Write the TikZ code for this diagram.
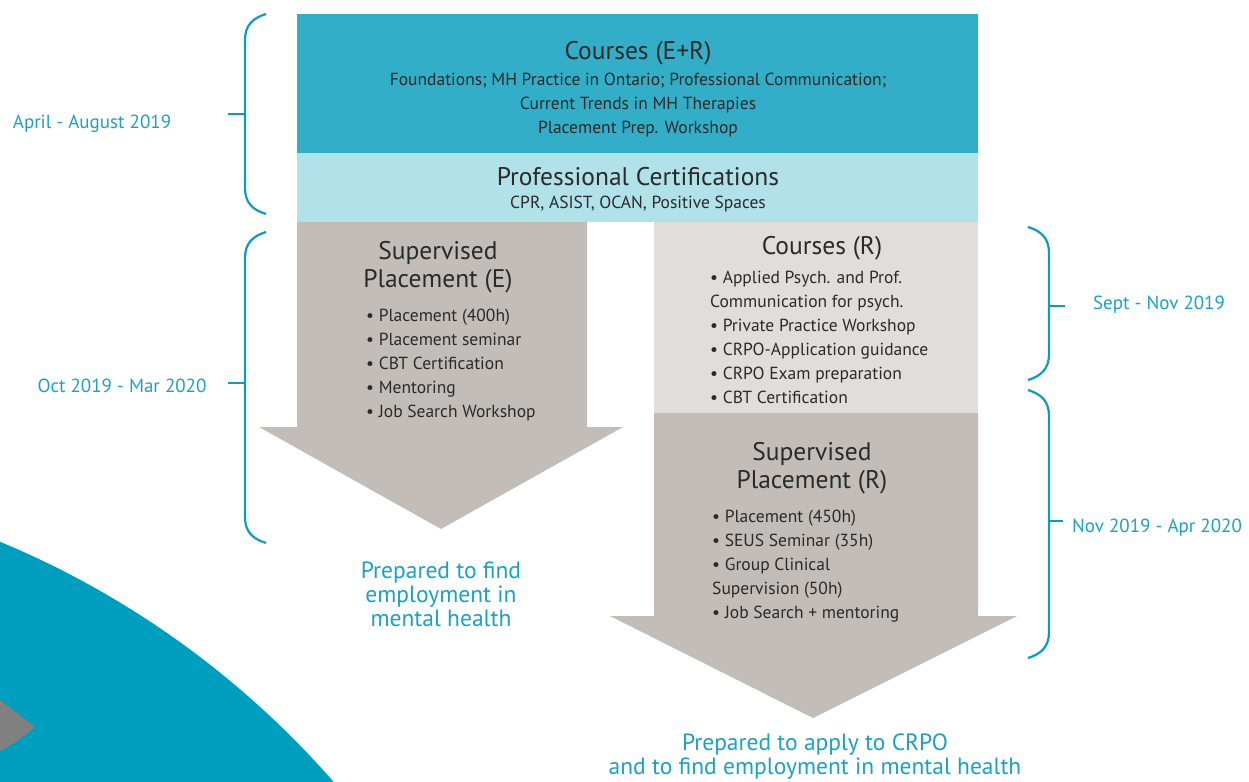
\documentclass[tikz,border=0pt]{standalone}
\usepackage{fontspec}
\setmainfont{PT Sans}
\usepackage{xcolor}
\usepackage{tikz}

\definecolor{tealtop}{HTML}{33AEC8}
\definecolor{birumuda}{HTML}{B1E1E9}
\definecolor{abu}{HTML}{C2BDB9}
\definecolor{abumuda}{HTML}{E0DEDC}
\definecolor{biru}{HTML}{1BA1C1}
\definecolor{garis}{HTML}{0E9CBE}
\definecolor{bulat}{HTML}{009EBE}
\definecolor{segitiga}{HTML}{808080}
\definecolor{teks}{HTML}{2A2A2A}

\begin{document}
\begin{tikzpicture}[x=1pt,y=-1pt,
	judul/.style={text=teks,font=\fontsize{25.5}{28}\selectfont,align=center,inner sep=0pt,yshift=-3pt},
	isi/.style={text=teks,font=\fontsize{17.5}{24}\selectfont,align=center,inner sep=0pt,yshift=-3pt},
	daftar/.style={isi,align=left,anchor=west},
	waktu/.style={text=biru,font=\fontsize{19}{22}\selectfont,inner sep=0pt,yshift=-3pt},
	hasil/.style={text=biru,font=\fontsize{23.5}{24}\selectfont,align=center,inner sep=0pt,yshift=-2pt},
	kurung/.style={draw=garis,line width=2.2pt}]
	% batas gambar
	\clip (0,0) rectangle (1249,781);

	% latar: lingkaran besar dan segitiga abu
	\fill [bulat] (-346,1375) circle (902pt);
	\fill [segitiga] (0,700) -- (35,727) .. controls (22,738) and (12,745) .. (0,751) -- cycle;

	% kotak dan panah
	\fill [tealtop] (297,14) rectangle (978,153);      % kursus E+R
	\fill [birumuda] (297,153) rectangle (978,222);    % sertifikasi
	\fill [abu] (297,222) -- (587,222) -- (587,427) -- (623,427) -- (441,529)
		-- (259,427) -- (297,427) -- cycle;              % panah kiri
	\fill [abumuda] (654,222) rectangle (978,413);     % kursus R
	\fill [abu] (654,413) -- (978,413) -- (978,616) -- (1017,616) -- (813,718)
		-- (610,616) -- (654,616) -- cycle;              % panah kanan

	% definisi untuk node
	\node (kursus) [judul] at (638,50) {Courses (E+R)};
	\node (kursusisi) [isi] at (638,102) {Foundations; MH Practice in Ontario; Professional Communication;\\
		Current Trends in MH Therapies\\Placement Prep. Workshop};
	\node (sertifikasi) [judul] at (638,174) {Professional Certifications};
	\node (sertifikasiisi) [isi] at (638,201) {CPR, ASIST, OCAN, Positive Spaces};

	\node (magangE) [judul] at (438,264) {Supervised\\Placement (E)};
	\node (magangEisi) [daftar] at (366,362) {• Placement (400h)\\• Placement seminar\\
		• CBT Certification\\• Mentoring\\• Job Search Workshop};

	\node (kursusR) [judul] at (822,245) {Courses (R)};
	\node (kursusRisi) [daftar] at (710,334) {• Applied Psych. and Prof.\\Communication for psych.\\
		• Private Practice Workshop\\• CRPO-Application guidance\\• CRPO Exam preparation\\
		• CBT Certification};

	\node (magangR) [judul] at (812,465) {Supervised\\Placement (R)};
	\node (magangRisi) [daftar] at (712,563) {• Placement (450h)\\• SEUS Seminar (35h)\\
		• Group Clinical\\Supervision (50h)\\• Job Search + mentoring};

	\node (hasilE) [hasil] at (441,592) {Prepared to find\\employment in\\mental health};
	\node (hasilR) [hasil] at (815,755) {Prepared to apply to CRPO\\and to find employment in mental health};

	% label waktu
	\node (april) [waktu] at (92,121) {April - August 2019};
	\node (oktober) [waktu] at (122,383) {Oct 2019 - Mar 2020};
	\node (sept) [waktu] at (1159,302) {Sept - Nov 2019};
	\node (nov) [waktu] at (1157,525) {Nov 2019 - Apr 2020};

	% kurung kurawal
	\draw [kurung] (266,14) .. controls (253,18) and (245,25) .. (245,40) -- (245,188)
		.. controls (245,203) and (253,210) .. (266,214);
	\draw [kurung] (245,114) -- (228,114);
	\draw [kurung] (266,232) .. controls (253,236) and (245,243) .. (245,258) -- (245,517)
		.. controls (245,532) and (253,539) .. (266,543);
	\draw [kurung] (245,383) -- (228,383);
	\draw [kurung] (1028,227) .. controls (1041,231) and (1049,238) .. (1049,253) -- (1049,354)
		.. controls (1049,369) and (1041,376) .. (1028,380);
	\draw [kurung] (1049,306) -- (1065,306);
	\draw [kurung] (1028,390) .. controls (1041,394) and (1049,401) .. (1049,416) -- (1049,632)
		.. controls (1049,647) and (1041,654) .. (1028,658);
	\draw [kurung] (1049,521) -- (1063,521);
\end{tikzpicture}
\end{document}
